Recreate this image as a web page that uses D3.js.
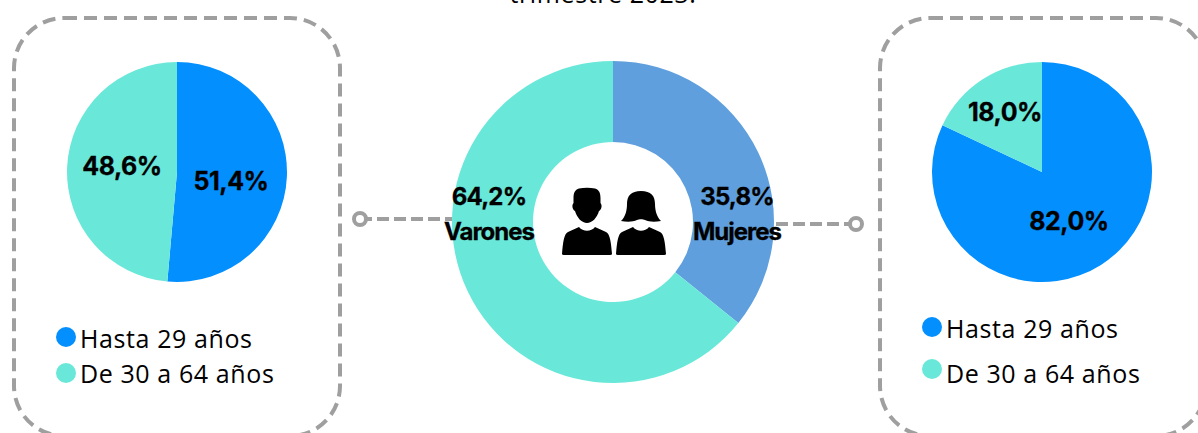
<!DOCTYPE html>
<html>
<head>
<meta charset="utf-8">
<script src="https://cdn.jsdelivr.net/npm/d3@7"></script>
<style>
html, body { margin: 0; padding: 0; background: #fff; overflow: hidden; }
svg { display: block; }
</style>
</head>
<body>
<svg id="chart" width="1198" height="433"></svg>
<script>
// Values
var sexLabels = ['Mujeres', 'Varones'];
var sexValues = [35.8, 64.2];
var ageLabels = ['Hasta 29 años', 'De 30 a 64 años'];
var varonesAge = [51.4, 48.6];
var mujeresAge = [82.0, 18.0];
var titleTail = 'trimestre 2023.';

var ageColor = d3.scaleOrdinal().domain(ageLabels).range(['#038ffe', '#69e8da']);
var sexColor = d3.scaleOrdinal().domain(sexLabels).range(['#5f9fdd', '#69e8da']);

var grey = '#a09f9f';
var boldFont = 'Inter, sans-serif';
var legendFont = '"Open Sans", sans-serif';

var svg = d3.select('#chart');
var pie = d3.pie().sort(null);

function fmt(v) {
    return v.toFixed(1).replace('.', ',') + '%';
}

svg.append('text')
    .attr('x', 603)
    .attr('y', 3)
    .attr('text-anchor', 'middle')
    .attr('font-family', legendFont)
    .attr('font-size', 25)
    .attr('letter-spacing', 0.6)
    .attr('fill', '#000')
    .text(titleTail);

function drawBox(x, w) {
    svg.append('rect')
        .attr('x', x)
        .attr('y', 18)
        .attr('width', w)
        .attr('height', 418)
        .attr('rx', 50)
        .attr('fill', 'none')
        .attr('stroke', grey)
        .attr('stroke-width', 4)
        .attr('stroke-dasharray', '13 7');
}

function drawAgePie(cx, cy, r, values) {
    var g = svg.append('g').attr('transform', `translate(${cx},${cy})`);
    g.selectAll('path')
        .data(pie(values))
        .join('path')
        .attr('fill', (d, i) => ageColor(ageLabels[i]))
        .attr('d', d3.arc().innerRadius(0).outerRadius(r));
}

function drawLabel(x, y, txt, size, spacing) {
    svg.append('text')
        .attr('x', x)
        .attr('y', y)
        .attr('text-anchor', 'middle')
        .attr('font-family', boldFont)
        .attr('font-weight', 'bold')
        .attr('font-size', size)
        .attr('letter-spacing', spacing)
        .attr('stroke', '#000')
        .attr('stroke-width', 0.3)
        .attr('fill', '#000')
        .text(txt);
}

function drawLegend(x, ys, textYs) {
    var g = svg.append('g');
    g.selectAll('circle')
        .data(ageLabels)
        .join('circle')
        .attr('cx', x)
        .attr('cy', (d, i) => ys[i])
        .attr('r', 10)
        .attr('fill', d => ageColor(d));
    g.selectAll('text')
        .data(ageLabels)
        .join('text')
        .attr('x', x + 14)
        .attr('y', (d, i) => textYs[i])
        .attr('font-family', legendFont)
        .attr('font-size', 25)
        .attr('letter-spacing', 0.6)
        .attr('fill', '#000')
        .text(d => d);
}

function drawConnector(x1, x2, y) {
    svg.append('line')
        .attr('x1', x1)
        .attr('x2', x2)
        .attr('y1', y)
        .attr('y2', y)
        .attr('stroke', grey)
        .attr('stroke-width', 4)
        .attr('stroke-dasharray', '12 5');
    svg.append('circle')
        .attr('cx', x1)
        .attr('cy', y)
        .attr('r', 6)
        .attr('fill', '#fff')
        .attr('stroke', grey)
        .attr('stroke-width', 4);
}

function drawIcons() {
    var g = svg.append('g').attr('fill', '#000');
    var body = 'M-25,27 C-24,15 -23,7 -19,5 L-8,0 C-4,5 4,5 8,0 L19,5 C23,7 24,15 25,27 Q25,28 23,28 L-23,28 Q-25,28 -25,27 Z';
    // man
    g.append('path').attr('transform', 'translate(587,227)').attr('d', body);
    g.append('path')
        .attr('transform', 'translate(587,188)')
        .attr('d', 'M-8,0.5 C-3,-0.5 3,-0.5 8,0.5 C12,1.5 13.5,5 13.5,10 L13.5,15 C15.5,17 14.5,22 12,23 C10,30 5,35 0,35 C-5,35 -10,30 -12,23 C-14.5,22 -15.5,17 -13.5,15 L-13.5,10 C-13.5,5 -12,1.5 -8,0.5 Z');
    // woman
    g.append('path').attr('transform', 'translate(641,227)').attr('d', body);
    g.append('path')
        .attr('transform', 'translate(641,191)')
        .attr('d', 'M0,0 C10,0 14,5 14,13 C14,20 16,26 20,30 C14,31 8,31 4,29 C2,28 -2,28 -4,29 C-8,31 -14,31 -20,30 C-16,26 -14,20 -14,13 C-14,5 -10,0 0,0 Z');
}

function drawChart() {
    drawBox(14, 326);
    drawBox(880, 326);

    drawConnector(360, 452, 219);
    drawConnector(856, 774, 224);

    drawAgePie(177, 172, 110, varonesAge);
    drawAgePie(1042, 172, 110, mujeresAge);

    var donut = svg.append('g').attr('transform', 'translate(613,222)');
    donut.selectAll('path')
        .data(pie(sexValues))
        .join('path')
        .attr('fill', (d, i) => sexColor(sexLabels[i]))
        .attr('d', d3.arc().innerRadius(80).outerRadius(161));

    drawIcons();

    drawLabel(231, 190, fmt(varonesAge[0]), 25, -0.5);
    drawLabel(122, 175, fmt(varonesAge[1]), 25, -0.5);
    drawLabel(1069, 230, fmt(mujeresAge[0]), 25, -0.5);
    drawLabel(1005, 121, fmt(mujeresAge[1]), 25, -0.5);

    drawLabel(737, 205, fmt(sexValues[0]), 24, -0.8);
    drawLabel(737, 240, sexLabels[0], 24, -1);
    drawLabel(489, 205, fmt(sexValues[1]), 24, -0.8);
    drawLabel(489, 240, sexLabels[1], 24, -1);

    drawLegend(66, [337, 373], [348, 383]);
    drawLegend(932, [327, 369], [338, 383]);
}

drawChart();
</script>
</body>
</html>
